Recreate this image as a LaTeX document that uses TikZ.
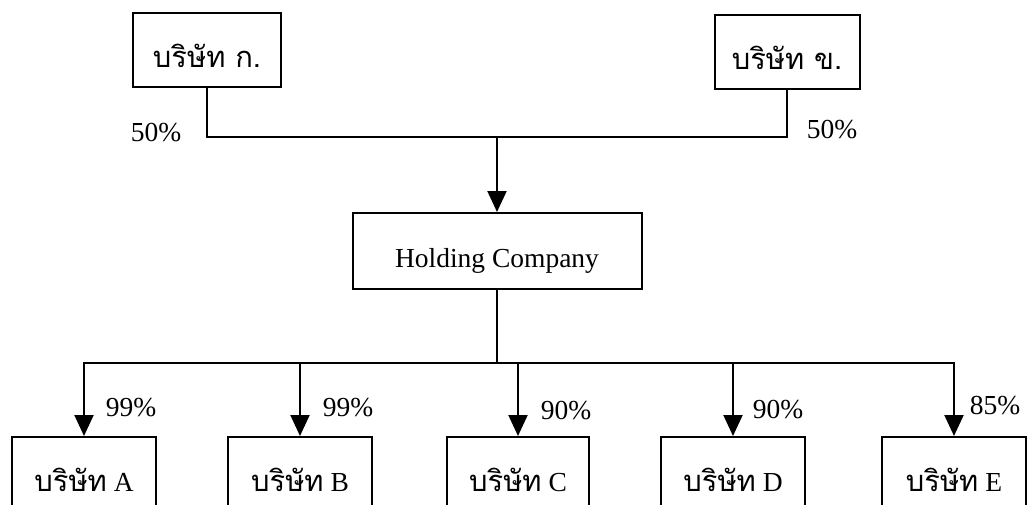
\documentclass[tikz,border=0pt]{standalone}
\usepackage{fontspec}
\setmainfont{Liberation Serif}
\newfontfamily\thai[Script=Thai,Scale=1.06]{Loma}
\usetikzlibrary{arrows.meta}
\begin{document}
\begin{tikzpicture}[x=1pt,y=-1pt,
  every node/.style={font=\fontsize{27.5}{30}\selectfont},
  box/.style={draw,line width=2pt,inner sep=0pt,minimum height=74pt,text height=38pt,text depth=4pt},
  lbl/.style={inner sep=0pt},
  link/.style={line width=2.1pt},
  arr/.style={line width=2.1pt,-{Triangle[length=21pt,width=19pt]}}]
\fill[white] (0,0) rectangle (1029,504);
\useasboundingbox (0,0) rectangle (1029,504);
\begin{scope}
\clip (0,0) rectangle (1029,504);
\node[box,minimum width=148pt] (ka) at (207,50) {\thai บริษัท ก.};
\node[box,minimum width=145pt] (kb) at (787,52) {\thai บริษัท ข.};
\node[box,minimum width=289pt,minimum height=76pt,text height=36pt] (hold) at (497,251) {Holding Company};
\node[box,minimum width=144pt] (A) at (84,474) {{\thai บริษัท} A};
\node[box,minimum width=144pt] (B) at (300,474) {{\thai บริษัท} B};
\node[box,minimum width=142pt] (C) at (518,474) {{\thai บริษัท} C};
\node[box,minimum width=144pt] (D) at (733,474) {{\thai บริษัท} D};
\node[box,minimum width=144pt] (E) at (954,474) {{\thai บริษัท} E};
\coordinate (jt) at (497,137);
\coordinate (jb) at (497,363);
\draw[link] (ka.south) |- (jt) -| (kb.south);
\draw[arr] (jt) -- (hold.north);
\draw[link] (hold.south) -- (jb);
\draw[arr] (jb) -| (A.north);
\draw[arr] (jb) -| (B.north);
\draw[arr] (jb) -| (C.north);
\draw[arr] (jb) -| (D.north);
\draw[arr] (jb) -| (E.north);
\end{scope}
\node[lbl] (pka) at (156,133) {50\%};
\node[lbl] (pkb) at (832,130) {50\%};
\node[lbl] (pA) at (131,408) {99\%};
\node[lbl] (pB) at (348,408) {99\%};
\node[lbl] (pC) at (566,411) {90\%};
\node[lbl] (pD) at (778,410) {90\%};
\node[lbl] (pE) at (995,406) {85\%};
\end{tikzpicture}
\end{document}
